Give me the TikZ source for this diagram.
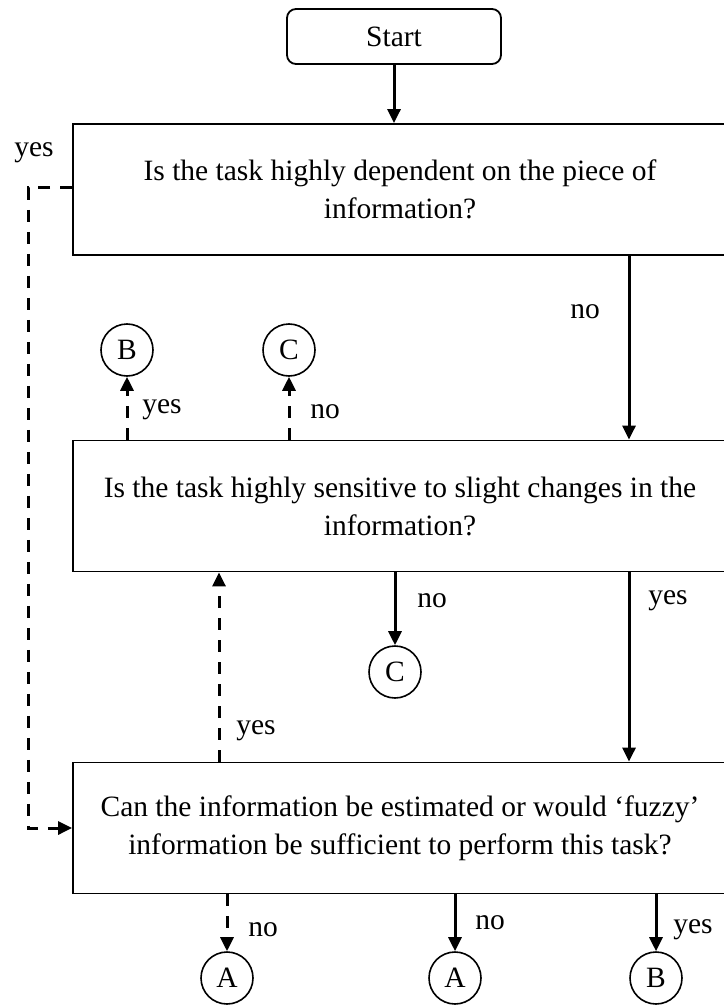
\documentclass[tikz,border=0pt]{standalone}
\usepackage{fontspec}
\setmainfont{Liberation Serif}
\usetikzlibrary{arrows.meta}
\begin{document}
\begin{tikzpicture}[x=1pt,y=-1pt,
  every node/.style={font=\fontsize{29.5}{38}\selectfont},
  question/.style={draw,line width=1.8pt,minimum width=654pt,minimum height=131pt,align=center,inner sep=0pt},
  startbox/.style={draw,line width=1.8pt,rounded corners=9pt,minimum width=214pt,minimum height=55pt,inner sep=0pt},
  connector/.style={draw,circle,line width=1.6pt,minimum size=52pt,inner sep=0pt},
  flow/.style={line width=3pt,-{Triangle[length=14pt,width=13pt]}},
  alt/.style={flow,dash pattern=on 12pt off 10pt},
  lbl/.style={inner sep=0pt}]
\useasboundingbox (0,0) rectangle (723,1008);

% main boxes
\node[startbox] (start) at (394,36.5) {Start};
\node[question] (q1) at (400,189.5) {Is the task highly dependent on the piece of\\information?};
\node[question] (q2) at (400,506) {Is the task highly sensitive to slight changes in the\\information?};
\node[question] (q3) at (400,828) {Can the information be estimated or would `fuzzy'\\information be sufficient to perform this task?};

% connector circles
\node[connector] (b1) at (127,350) {B};
\node[connector] (c1) at (289,350) {C};
\node[connector] (c2) at (395,672) {C};
\node[connector] (a1) at (227,978) {A};
\node[connector] (a2) at (455,978) {A};
\node[connector] (b2) at (656,978) {B};

% column guides
\coordinate (xr) at (629,0);
\coordinate (xy) at (219,0);
\coordinate (xl) at (28,0);

% flow arrows
\draw[flow] (start.south) -- (q1.north -| start.south);
\draw[flow] (q1.south -| xr) -- (q2.north -| xr);
\draw[flow] (q2.south -| xr) -- (q3.north -| xr);
\draw[alt] (q2.north -| b1) -- (b1.south);
\draw[alt] (q2.north -| c1) -- (c1.south);
\draw[flow] (q2.south -| c2) -- (c2.north);
\draw[alt] (q3.north -| xy) -- (q2.south -| xy);
\draw[alt] (q1.west |- 0,188) -| (xl |- 0,828) -- (q3.west);
\draw[alt] (q3.south -| a1) -- (a1.north);
\draw[flow] (q3.south -| a2) -- (a2.north);
\draw[flow] (q3.south -| b2) -- (b2.north);

% branch labels
\node[lbl] (l1) at (34,153) {yes};
\node[lbl] (l2) at (585,312) {no};
\node[lbl] (l3) at (162,410) {yes};
\node[lbl] (l4) at (325,412) {no};
\node[lbl] (l5) at (432,601) {no};
\node[lbl] (l6) at (668,601) {yes};
\node[lbl] (l7) at (256,731) {yes};
\node[lbl] (l8) at (263,930) {no};
\node[lbl] (l9) at (490,923) {no};
\node[lbl] (l10) at (693,930) {yes};
\end{tikzpicture}
\end{document}
